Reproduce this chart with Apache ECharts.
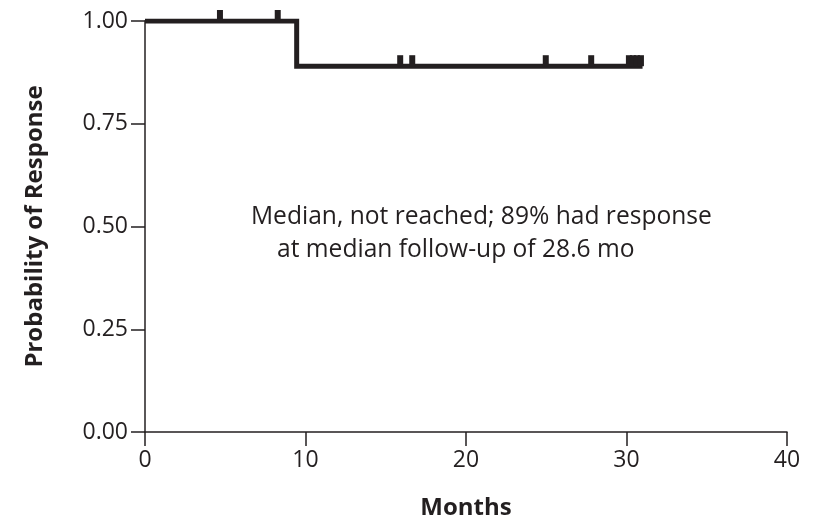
<!DOCTYPE html>
<html>
<head>
<meta charset="utf-8">
<script src="https://cdn.jsdelivr.net/npm/echarts@6/dist/echarts.min.js"></script>
<style>
html,body{margin:0;padding:0;background:#fff;}
#main{width:817px;height:526px;}
</style>
</head>
<body>
<div id="main"></div>
<script>
var months = [0, 9.45, 9.45, 31.0];
var probability = [1.0, 1.0, 0.89, 0.89];
var censorMonths = [4.67, 8.27, 15.9, 16.65, 24.97, 27.8, 30.15, 30.4, 30.65, 30.9];
var censorProb = [1.0, 1.0, 0.89, 0.89, 0.89, 0.89, 0.89, 0.89, 0.89, 0.89];
var yTicks = [0, 0.25, 0.5, 0.75, 1.0];
var xTicks = [0, 10, 20, 30, 40];

var ink = '#231f20';
var font = '"Open Sans", "Noto Sans", sans-serif';

var myChart = echarts.init(document.getElementById('main'));

var curve = months.map(function (m, i) { return [m, probability[i]]; });
var censors = censorMonths.map(function (m, i) { return [m, censorProb[i]]; });

option = {
    animation: false,
    grid: { left: 145, right: 30, top: 21, bottom: 94 },
    xAxis: {
        type: 'value',
        min: 0, max: 40, interval: 10,
        name: 'Months',
        nameLocation: 'middle',
        nameGap: 64,
        nameTextStyle: { color: ink, fontFamily: font, fontSize: 24, fontWeight: 'bold' },
        axisLine: { lineStyle: { color: ink, width: 1.5 } },
        axisTick: { length: 14, lineStyle: { color: ink, width: 1.5 } },
        axisLabel: {
            color: ink, fontFamily: font, fontSize: 23, margin: 17,
            formatter: function (v) { return xTicks.indexOf(v) >= 0 ? String(v) : ''; }
        },
        splitLine: { show: false }
    },
    yAxis: {
        type: 'value',
        min: 0, max: 1, interval: 0.25,
        name: 'Probability of Response',
        nameLocation: 'middle',
        nameRotate: 90,
        nameGap: 98,
        nameTextStyle: { color: ink, fontFamily: font, fontSize: 24, fontWeight: 'bold' },
        axisLine: { show: true, lineStyle: { color: ink, width: 1.5 } },
        axisTick: { show: true, length: 14, lineStyle: { color: ink, width: 1.5 } },
        axisLabel: {
            color: ink, fontFamily: font, fontSize: 23, margin: 17,
            formatter: function (v) { return yTicks.indexOf(v) >= 0 ? v.toFixed(2) : ''; }
        },
        splitLine: { show: false }
    },
    series: [
        {
            type: 'line',
            data: curve,
            showSymbol: false,
            lineStyle: { color: ink, width: 5, join: 'miter' },
            z: 3
        },
        {
            type: 'scatter',
            data: censors,
            symbol: 'rect',
            symbolSize: [6, 11],
            symbolOffset: [0, -5.5],
            itemStyle: { color: ink, opacity: 1 },
            z: 4
        }
    ],
    graphic: [
        {
            type: 'text', left: 251, top: 204,
            style: { text: 'Median, not reached; 89% had response', fill: ink, font: '24.6px ' + font }
        },
        {
            type: 'text', left: 277, top: 237,
            style: { text: 'at median follow-up of 28.6 mo', fill: ink, font: '24.6px ' + font }
        }
    ]
};
myChart.setOption(option);
window.addEventListener('resize', function () { myChart.resize(); });
</script>
</body>
</html>
